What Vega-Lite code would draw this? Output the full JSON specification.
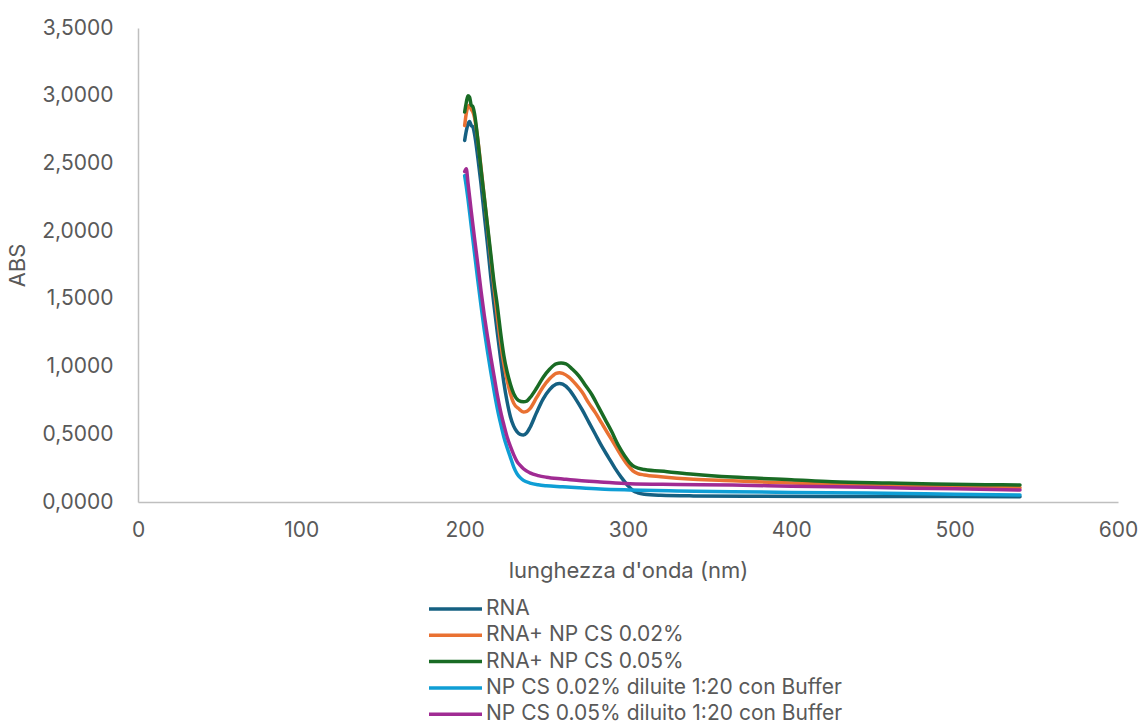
{
  "$schema": "https://vega.github.io/schema/vega-lite/v6.json",
  "width": 980,
  "height": 474,
  "autosize": {"type": "none"},
  "padding": {"left": 138, "top": 28, "right": 24, "bottom": 225},
  "background": "#ffffff",
  "config": {
    "view": {"stroke": null},
    "font": "Inter",
    "axis": {"grid": false, "ticks": false, "labelFlush": false, "domainColor": "#BFBFBF", "domainWidth": 1.5, "labelColor": "#595959", "titleColor": "#595959", "labelFontSize": 21, "titleFontSize": 22, "titleFontWeight": "normal", "labelFont": "Inter", "titleFont": "Inter"}
  },
  "data": {
    "values": [
      {"wl": 200, "abs": 2.67, "s": "RNA"},
      {"wl": 201, "abs": 2.74, "s": "RNA"},
      {"wl": 202, "abs": 2.79, "s": "RNA"},
      {"wl": 203, "abs": 2.81, "s": "RNA"},
      {"wl": 204, "abs": 2.78, "s": "RNA"},
      {"wl": 205, "abs": 2.77, "s": "RNA"},
      {"wl": 206, "abs": 2.72, "s": "RNA"},
      {"wl": 208, "abs": 2.55, "s": "RNA"},
      {"wl": 210, "abs": 2.35, "s": "RNA"},
      {"wl": 212, "abs": 2.12, "s": "RNA"},
      {"wl": 214, "abs": 1.9, "s": "RNA"},
      {"wl": 216, "abs": 1.66, "s": "RNA"},
      {"wl": 218, "abs": 1.45, "s": "RNA"},
      {"wl": 220, "abs": 1.25, "s": "RNA"},
      {"wl": 222, "abs": 1.06, "s": "RNA"},
      {"wl": 224, "abs": 0.88, "s": "RNA"},
      {"wl": 226, "abs": 0.74, "s": "RNA"},
      {"wl": 228, "abs": 0.63, "s": "RNA"},
      {"wl": 230, "abs": 0.56, "s": "RNA"},
      {"wl": 232, "abs": 0.52, "s": "RNA"},
      {"wl": 234, "abs": 0.5, "s": "RNA"},
      {"wl": 236, "abs": 0.495, "s": "RNA"},
      {"wl": 238, "abs": 0.51, "s": "RNA"},
      {"wl": 240, "abs": 0.55, "s": "RNA"},
      {"wl": 244, "abs": 0.66, "s": "RNA"},
      {"wl": 248, "abs": 0.76, "s": "RNA"},
      {"wl": 252, "abs": 0.83, "s": "RNA"},
      {"wl": 256, "abs": 0.87, "s": "RNA"},
      {"wl": 258, "abs": 0.875, "s": "RNA"},
      {"wl": 260, "abs": 0.87, "s": "RNA"},
      {"wl": 264, "abs": 0.83, "s": "RNA"},
      {"wl": 268, "abs": 0.76, "s": "RNA"},
      {"wl": 272, "abs": 0.68, "s": "RNA"},
      {"wl": 276, "abs": 0.59, "s": "RNA"},
      {"wl": 280, "abs": 0.5, "s": "RNA"},
      {"wl": 284, "abs": 0.41, "s": "RNA"},
      {"wl": 288, "abs": 0.33, "s": "RNA"},
      {"wl": 292, "abs": 0.25, "s": "RNA"},
      {"wl": 296, "abs": 0.18, "s": "RNA"},
      {"wl": 300, "abs": 0.12, "s": "RNA"},
      {"wl": 303, "abs": 0.085, "s": "RNA"},
      {"wl": 306, "abs": 0.068, "s": "RNA"},
      {"wl": 310, "abs": 0.058, "s": "RNA"},
      {"wl": 320, "abs": 0.05, "s": "RNA"},
      {"wl": 340, "abs": 0.045, "s": "RNA"},
      {"wl": 380, "abs": 0.042, "s": "RNA"},
      {"wl": 420, "abs": 0.041, "s": "RNA"},
      {"wl": 460, "abs": 0.04, "s": "RNA"},
      {"wl": 500, "abs": 0.04, "s": "RNA"},
      {"wl": 540, "abs": 0.039, "s": "RNA"},

      {"wl": 200, "abs": 2.78, "s": "RNA+ NP CS 0.02%"},
      {"wl": 201, "abs": 2.87, "s": "RNA+ NP CS 0.02%"},
      {"wl": 202, "abs": 2.92, "s": "RNA+ NP CS 0.02%"},
      {"wl": 203, "abs": 2.93, "s": "RNA+ NP CS 0.02%"},
      {"wl": 204, "abs": 2.9, "s": "RNA+ NP CS 0.02%"},
      {"wl": 205, "abs": 2.88, "s": "RNA+ NP CS 0.02%"},
      {"wl": 206, "abs": 2.84, "s": "RNA+ NP CS 0.02%"},
      {"wl": 208, "abs": 2.68, "s": "RNA+ NP CS 0.02%"},
      {"wl": 210, "abs": 2.47, "s": "RNA+ NP CS 0.02%"},
      {"wl": 212, "abs": 2.25, "s": "RNA+ NP CS 0.02%"},
      {"wl": 214, "abs": 2.03, "s": "RNA+ NP CS 0.02%"},
      {"wl": 216, "abs": 1.8, "s": "RNA+ NP CS 0.02%"},
      {"wl": 218, "abs": 1.58, "s": "RNA+ NP CS 0.02%"},
      {"wl": 220, "abs": 1.37, "s": "RNA+ NP CS 0.02%"},
      {"wl": 222, "abs": 1.18, "s": "RNA+ NP CS 0.02%"},
      {"wl": 224, "abs": 1.02, "s": "RNA+ NP CS 0.02%"},
      {"wl": 226, "abs": 0.9, "s": "RNA+ NP CS 0.02%"},
      {"wl": 228, "abs": 0.8, "s": "RNA+ NP CS 0.02%"},
      {"wl": 230, "abs": 0.73, "s": "RNA+ NP CS 0.02%"},
      {"wl": 233, "abs": 0.69, "s": "RNA+ NP CS 0.02%"},
      {"wl": 236, "abs": 0.665, "s": "RNA+ NP CS 0.02%"},
      {"wl": 238, "abs": 0.67, "s": "RNA+ NP CS 0.02%"},
      {"wl": 240, "abs": 0.69, "s": "RNA+ NP CS 0.02%"},
      {"wl": 244, "abs": 0.77, "s": "RNA+ NP CS 0.02%"},
      {"wl": 248, "abs": 0.85, "s": "RNA+ NP CS 0.02%"},
      {"wl": 252, "abs": 0.91, "s": "RNA+ NP CS 0.02%"},
      {"wl": 256, "abs": 0.95, "s": "RNA+ NP CS 0.02%"},
      {"wl": 258, "abs": 0.955, "s": "RNA+ NP CS 0.02%"},
      {"wl": 260, "abs": 0.95, "s": "RNA+ NP CS 0.02%"},
      {"wl": 264, "abs": 0.92, "s": "RNA+ NP CS 0.02%"},
      {"wl": 268, "abs": 0.87, "s": "RNA+ NP CS 0.02%"},
      {"wl": 272, "abs": 0.81, "s": "RNA+ NP CS 0.02%"},
      {"wl": 276, "abs": 0.73, "s": "RNA+ NP CS 0.02%"},
      {"wl": 280, "abs": 0.66, "s": "RNA+ NP CS 0.02%"},
      {"wl": 284, "abs": 0.58, "s": "RNA+ NP CS 0.02%"},
      {"wl": 288, "abs": 0.5, "s": "RNA+ NP CS 0.02%"},
      {"wl": 292, "abs": 0.42, "s": "RNA+ NP CS 0.02%"},
      {"wl": 296, "abs": 0.34, "s": "RNA+ NP CS 0.02%"},
      {"wl": 300, "abs": 0.27, "s": "RNA+ NP CS 0.02%"},
      {"wl": 303, "abs": 0.23, "s": "RNA+ NP CS 0.02%"},
      {"wl": 306, "abs": 0.21, "s": "RNA+ NP CS 0.02%"},
      {"wl": 310, "abs": 0.2, "s": "RNA+ NP CS 0.02%"},
      {"wl": 320, "abs": 0.187, "s": "RNA+ NP CS 0.02%"},
      {"wl": 340, "abs": 0.168, "s": "RNA+ NP CS 0.02%"},
      {"wl": 364, "abs": 0.157, "s": "RNA+ NP CS 0.02%"},
      {"wl": 400, "abs": 0.14, "s": "RNA+ NP CS 0.02%"},
      {"wl": 425, "abs": 0.13, "s": "RNA+ NP CS 0.02%"},
      {"wl": 460, "abs": 0.122, "s": "RNA+ NP CS 0.02%"},
      {"wl": 487, "abs": 0.118, "s": "RNA+ NP CS 0.02%"},
      {"wl": 520, "abs": 0.11, "s": "RNA+ NP CS 0.02%"},
      {"wl": 540, "abs": 0.106, "s": "RNA+ NP CS 0.02%"},

      {"wl": 200, "abs": 2.88, "s": "RNA+ NP CS 0.05%"},
      {"wl": 201, "abs": 2.95, "s": "RNA+ NP CS 0.05%"},
      {"wl": 202, "abs": 3.0, "s": "RNA+ NP CS 0.05%"},
      {"wl": 203, "abs": 2.99, "s": "RNA+ NP CS 0.05%"},
      {"wl": 204, "abs": 2.93, "s": "RNA+ NP CS 0.05%"},
      {"wl": 205, "abs": 2.92, "s": "RNA+ NP CS 0.05%"},
      {"wl": 206, "abs": 2.87, "s": "RNA+ NP CS 0.05%"},
      {"wl": 208, "abs": 2.68, "s": "RNA+ NP CS 0.05%"},
      {"wl": 210, "abs": 2.46, "s": "RNA+ NP CS 0.05%"},
      {"wl": 212, "abs": 2.25, "s": "RNA+ NP CS 0.05%"},
      {"wl": 214, "abs": 2.04, "s": "RNA+ NP CS 0.05%"},
      {"wl": 216, "abs": 1.83, "s": "RNA+ NP CS 0.05%"},
      {"wl": 218, "abs": 1.62, "s": "RNA+ NP CS 0.05%"},
      {"wl": 220, "abs": 1.45, "s": "RNA+ NP CS 0.05%"},
      {"wl": 222, "abs": 1.25, "s": "RNA+ NP CS 0.05%"},
      {"wl": 224, "abs": 1.08, "s": "RNA+ NP CS 0.05%"},
      {"wl": 226, "abs": 0.96, "s": "RNA+ NP CS 0.05%"},
      {"wl": 228, "abs": 0.87, "s": "RNA+ NP CS 0.05%"},
      {"wl": 230, "abs": 0.8, "s": "RNA+ NP CS 0.05%"},
      {"wl": 233, "abs": 0.75, "s": "RNA+ NP CS 0.05%"},
      {"wl": 236, "abs": 0.74, "s": "RNA+ NP CS 0.05%"},
      {"wl": 238, "abs": 0.745, "s": "RNA+ NP CS 0.05%"},
      {"wl": 240, "abs": 0.77, "s": "RNA+ NP CS 0.05%"},
      {"wl": 244, "abs": 0.84, "s": "RNA+ NP CS 0.05%"},
      {"wl": 248, "abs": 0.92, "s": "RNA+ NP CS 0.05%"},
      {"wl": 252, "abs": 0.98, "s": "RNA+ NP CS 0.05%"},
      {"wl": 256, "abs": 1.02, "s": "RNA+ NP CS 0.05%"},
      {"wl": 259, "abs": 1.026, "s": "RNA+ NP CS 0.05%"},
      {"wl": 262, "abs": 1.02, "s": "RNA+ NP CS 0.05%"},
      {"wl": 266, "abs": 0.98, "s": "RNA+ NP CS 0.05%"},
      {"wl": 270, "abs": 0.93, "s": "RNA+ NP CS 0.05%"},
      {"wl": 274, "abs": 0.86, "s": "RNA+ NP CS 0.05%"},
      {"wl": 278, "abs": 0.79, "s": "RNA+ NP CS 0.05%"},
      {"wl": 282, "abs": 0.7, "s": "RNA+ NP CS 0.05%"},
      {"wl": 286, "abs": 0.61, "s": "RNA+ NP CS 0.05%"},
      {"wl": 290, "abs": 0.52, "s": "RNA+ NP CS 0.05%"},
      {"wl": 294, "abs": 0.42, "s": "RNA+ NP CS 0.05%"},
      {"wl": 298, "abs": 0.34, "s": "RNA+ NP CS 0.05%"},
      {"wl": 301, "abs": 0.29, "s": "RNA+ NP CS 0.05%"},
      {"wl": 304, "abs": 0.26, "s": "RNA+ NP CS 0.05%"},
      {"wl": 310, "abs": 0.24, "s": "RNA+ NP CS 0.05%"},
      {"wl": 324, "abs": 0.224, "s": "RNA+ NP CS 0.05%"},
      {"wl": 340, "abs": 0.205, "s": "RNA+ NP CS 0.05%"},
      {"wl": 364, "abs": 0.184, "s": "RNA+ NP CS 0.05%"},
      {"wl": 400, "abs": 0.165, "s": "RNA+ NP CS 0.05%"},
      {"wl": 425, "abs": 0.15, "s": "RNA+ NP CS 0.05%"},
      {"wl": 460, "abs": 0.14, "s": "RNA+ NP CS 0.05%"},
      {"wl": 487, "abs": 0.133, "s": "RNA+ NP CS 0.05%"},
      {"wl": 520, "abs": 0.128, "s": "RNA+ NP CS 0.05%"},
      {"wl": 540, "abs": 0.125, "s": "RNA+ NP CS 0.05%"},

      {"wl": 200, "abs": 2.41, "s": "NP CS 0.02% diluite 1:20 con Buffer"},
      {"wl": 201, "abs": 2.33, "s": "NP CS 0.02% diluite 1:20 con Buffer"},
      {"wl": 202, "abs": 2.24, "s": "NP CS 0.02% diluite 1:20 con Buffer"},
      {"wl": 204, "abs": 2.04, "s": "NP CS 0.02% diluite 1:20 con Buffer"},
      {"wl": 206, "abs": 1.84, "s": "NP CS 0.02% diluite 1:20 con Buffer"},
      {"wl": 208, "abs": 1.64, "s": "NP CS 0.02% diluite 1:20 con Buffer"},
      {"wl": 210, "abs": 1.45, "s": "NP CS 0.02% diluite 1:20 con Buffer"},
      {"wl": 212, "abs": 1.27, "s": "NP CS 0.02% diluite 1:20 con Buffer"},
      {"wl": 214, "abs": 1.11, "s": "NP CS 0.02% diluite 1:20 con Buffer"},
      {"wl": 216, "abs": 0.96, "s": "NP CS 0.02% diluite 1:20 con Buffer"},
      {"wl": 218, "abs": 0.82, "s": "NP CS 0.02% diluite 1:20 con Buffer"},
      {"wl": 220, "abs": 0.69, "s": "NP CS 0.02% diluite 1:20 con Buffer"},
      {"wl": 222, "abs": 0.58, "s": "NP CS 0.02% diluite 1:20 con Buffer"},
      {"wl": 224, "abs": 0.48, "s": "NP CS 0.02% diluite 1:20 con Buffer"},
      {"wl": 226, "abs": 0.4, "s": "NP CS 0.02% diluite 1:20 con Buffer"},
      {"wl": 228, "abs": 0.33, "s": "NP CS 0.02% diluite 1:20 con Buffer"},
      {"wl": 230, "abs": 0.26, "s": "NP CS 0.02% diluite 1:20 con Buffer"},
      {"wl": 232, "abs": 0.21, "s": "NP CS 0.02% diluite 1:20 con Buffer"},
      {"wl": 234, "abs": 0.18, "s": "NP CS 0.02% diluite 1:20 con Buffer"},
      {"wl": 236, "abs": 0.16, "s": "NP CS 0.02% diluite 1:20 con Buffer"},
      {"wl": 240, "abs": 0.14, "s": "NP CS 0.02% diluite 1:20 con Buffer"},
      {"wl": 245, "abs": 0.127, "s": "NP CS 0.02% diluite 1:20 con Buffer"},
      {"wl": 250, "abs": 0.12, "s": "NP CS 0.02% diluite 1:20 con Buffer"},
      {"wl": 260, "abs": 0.113, "s": "NP CS 0.02% diluite 1:20 con Buffer"},
      {"wl": 270, "abs": 0.105, "s": "NP CS 0.02% diluite 1:20 con Buffer"},
      {"wl": 283, "abs": 0.096, "s": "NP CS 0.02% diluite 1:20 con Buffer"},
      {"wl": 301, "abs": 0.089, "s": "NP CS 0.02% diluite 1:20 con Buffer"},
      {"wl": 330, "abs": 0.082, "s": "NP CS 0.02% diluite 1:20 con Buffer"},
      {"wl": 364, "abs": 0.076, "s": "NP CS 0.02% diluite 1:20 con Buffer"},
      {"wl": 400, "abs": 0.071, "s": "NP CS 0.02% diluite 1:20 con Buffer"},
      {"wl": 446, "abs": 0.066, "s": "NP CS 0.02% diluite 1:20 con Buffer"},
      {"wl": 500, "abs": 0.058, "s": "NP CS 0.02% diluite 1:20 con Buffer"},
      {"wl": 540, "abs": 0.052, "s": "NP CS 0.02% diluite 1:20 con Buffer"},

      {"wl": 200, "abs": 2.44, "s": "NP CS 0.05% diluito 1:20 con Buffer"},
      {"wl": 201, "abs": 2.46, "s": "NP CS 0.05% diluito 1:20 con Buffer"},
      {"wl": 202, "abs": 2.36, "s": "NP CS 0.05% diluito 1:20 con Buffer"},
      {"wl": 204, "abs": 2.15, "s": "NP CS 0.05% diluito 1:20 con Buffer"},
      {"wl": 206, "abs": 1.95, "s": "NP CS 0.05% diluito 1:20 con Buffer"},
      {"wl": 208, "abs": 1.76, "s": "NP CS 0.05% diluito 1:20 con Buffer"},
      {"wl": 210, "abs": 1.56, "s": "NP CS 0.05% diluito 1:20 con Buffer"},
      {"wl": 212, "abs": 1.38, "s": "NP CS 0.05% diluito 1:20 con Buffer"},
      {"wl": 214, "abs": 1.22, "s": "NP CS 0.05% diluito 1:20 con Buffer"},
      {"wl": 216, "abs": 1.07, "s": "NP CS 0.05% diluito 1:20 con Buffer"},
      {"wl": 218, "abs": 0.93, "s": "NP CS 0.05% diluito 1:20 con Buffer"},
      {"wl": 220, "abs": 0.79, "s": "NP CS 0.05% diluito 1:20 con Buffer"},
      {"wl": 222, "abs": 0.67, "s": "NP CS 0.05% diluito 1:20 con Buffer"},
      {"wl": 224, "abs": 0.57, "s": "NP CS 0.05% diluito 1:20 con Buffer"},
      {"wl": 226, "abs": 0.48, "s": "NP CS 0.05% diluito 1:20 con Buffer"},
      {"wl": 228, "abs": 0.41, "s": "NP CS 0.05% diluito 1:20 con Buffer"},
      {"wl": 230, "abs": 0.35, "s": "NP CS 0.05% diluito 1:20 con Buffer"},
      {"wl": 232, "abs": 0.3, "s": "NP CS 0.05% diluito 1:20 con Buffer"},
      {"wl": 234, "abs": 0.27, "s": "NP CS 0.05% diluito 1:20 con Buffer"},
      {"wl": 236, "abs": 0.245, "s": "NP CS 0.05% diluito 1:20 con Buffer"},
      {"wl": 240, "abs": 0.215, "s": "NP CS 0.05% diluito 1:20 con Buffer"},
      {"wl": 245, "abs": 0.195, "s": "NP CS 0.05% diluito 1:20 con Buffer"},
      {"wl": 250, "abs": 0.183, "s": "NP CS 0.05% diluito 1:20 con Buffer"},
      {"wl": 260, "abs": 0.17, "s": "NP CS 0.05% diluito 1:20 con Buffer"},
      {"wl": 270, "abs": 0.158, "s": "NP CS 0.05% diluito 1:20 con Buffer"},
      {"wl": 283, "abs": 0.148, "s": "NP CS 0.05% diluito 1:20 con Buffer"},
      {"wl": 301, "abs": 0.135, "s": "NP CS 0.05% diluito 1:20 con Buffer"},
      {"wl": 330, "abs": 0.13, "s": "NP CS 0.05% diluito 1:20 con Buffer"},
      {"wl": 364, "abs": 0.125, "s": "NP CS 0.05% diluito 1:20 con Buffer"},
      {"wl": 400, "abs": 0.117, "s": "NP CS 0.05% diluito 1:20 con Buffer"},
      {"wl": 446, "abs": 0.108, "s": "NP CS 0.05% diluito 1:20 con Buffer"},
      {"wl": 500, "abs": 0.097, "s": "NP CS 0.05% diluito 1:20 con Buffer"},
      {"wl": 540, "abs": 0.089, "s": "NP CS 0.05% diluito 1:20 con Buffer"}
    ]
  },
  "mark": {"type": "line", "interpolate": "monotone", "strokeWidth": 3.5, "strokeCap": "round", "strokeJoin": "round"},
  "encoding": {
    "x": {
      "field": "wl", "type": "quantitative",
      "scale": {"domain": [0, 600], "nice": false, "zero": false},
      "axis": {"title": "lunghezza d'onda (nm)", "values": [0, 100, 200, 300, 400, 500, 600], "labelPadding": 17, "titlePadding": 20}
    },
    "y": {
      "field": "abs", "type": "quantitative",
      "scale": {"domain": [0, 3.5], "nice": false},
      "axis": {"title": "ABS", "values": [0, 0.5, 1, 1.5, 2, 2.5, 3, 3.5], "labelExpr": "replace(format(datum.value, '.4f'), '.', ',')", "labelPadding": 25, "titlePadding": 12}
    },
    "color": {
      "field": "s", "type": "nominal",
      "scale": {
        "domain": ["RNA", "RNA+ NP CS 0.02%", "RNA+ NP CS 0.05%", "NP CS 0.02% diluite 1:20 con Buffer", "NP CS 0.05% diluito 1:20 con Buffer"],
        "range": ["#156082", "#E97132", "#196B24", "#0F9ED5", "#A02B93"]
      },
      "legend": {
        "title": null, "orient": "none", "legendX": 289, "legendY": 571,
        "direction": "vertical", "symbolType": "stroke", "symbolSize": 2809, "symbolStrokeWidth": 3.5,
        "labelFontSize": 21, "labelColor": "#595959", "labelFont": "Inter", "labelOffset": 2,
        "clipHeight": 20, "rowPadding": 5.3, "labelLimit": 600
      }
    },
    "order": {"field": "s"}
  }
}
